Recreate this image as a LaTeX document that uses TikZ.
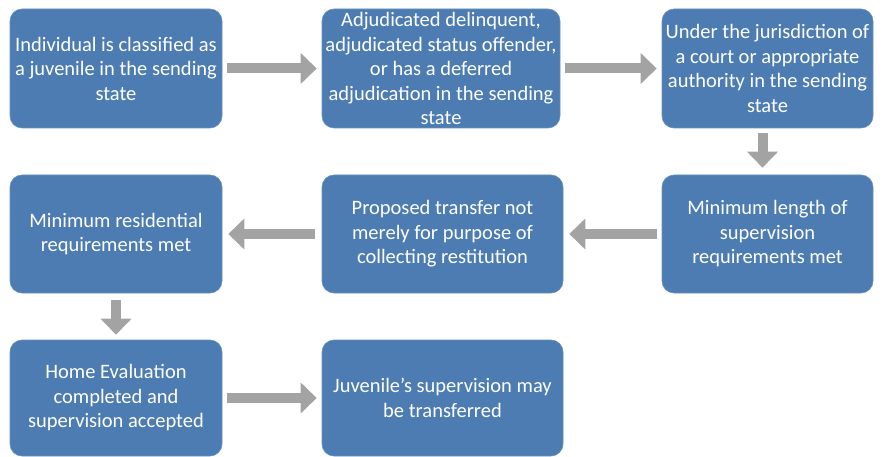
\documentclass[tikz,border=0pt]{standalone}
\usepackage{fontspec}
\setmainfont{Carlito}
\usetikzlibrary{arrows.meta}
\definecolor{boxblue}{RGB}{76,124,178}
\definecolor{arrowgray}{RGB}{163,163,163}
\begin{document}
\begin{tikzpicture}[x=1pt,y=-1pt,
  stepbox/.style={fill=boxblue, draw=boxblue!85!white, line width=0.6pt,
    rounded corners=12pt, text=white, align=center, inner sep=0pt,
    font=\fontsize{20.5}{24.5}\selectfont},
  flow/.style={draw=arrowgray, line width=10pt,
    -{Triangle[length=16pt,width=30pt]}, shorten <=5pt, shorten >=5pt}]
\useasboundingbox (0,0) rectangle (888,457);
% first row
\node[stepbox, minimum width=212pt, minimum height=119pt] (b1) at (116,68.5)
  {Individual is classified as\\a juvenile in the sending\\state};
\node[stepbox, minimum width=238pt, minimum height=119pt] (b2) at (441,68.5)
  {Adjudicated delinquent,\\adjudicated status offender,\\or has a deferred\\adjudication in the sending\\state};
\node[stepbox, minimum width=211pt, minimum height=119pt] (b3) at (767.5,68.5)
  {Under the jurisdiction of\\a court or appropriate\\authority in the sending\\state};
% second row
\node[stepbox, minimum width=212pt, minimum height=118pt] (b4) at (116,234)
  {Minimum residential\\requirements met};
\node[stepbox, minimum width=241pt, minimum height=118pt] (b5) at (442.5,234)
  {Proposed transfer not\\merely for purpose of\\collecting restitution};
\node[stepbox, minimum width=211pt, minimum height=118pt] (b6) at (767.5,234)
  {Minimum length of\\supervision\\requirements met};
% third row
\node[stepbox, minimum width=212pt, minimum height=116pt] (b7) at (116,398)
  {Home Evaluation\\completed and\\supervision accepted};
\node[stepbox, minimum width=241pt, minimum height=116pt] (b8) at (442.5,398)
  {Juvenile’s supervision may\\be transferred};
% connectors
\draw[flow] (b1) -- (b2);
\draw[flow] (b2) -- (b3);
\draw[flow, shorten >=7pt] ([xshift=-5pt]b3.south) -- ([xshift=-5pt]b6.north);
\draw[flow, shorten >=6pt] (b6) -- (b5);
\draw[flow, shorten >=6pt, shorten <=7pt] (b5) -- (b4);
\draw[flow, shorten <=7pt] (b4) -- (b7);
\draw[flow] (b7) -- (b8);
\end{tikzpicture}
\end{document}
